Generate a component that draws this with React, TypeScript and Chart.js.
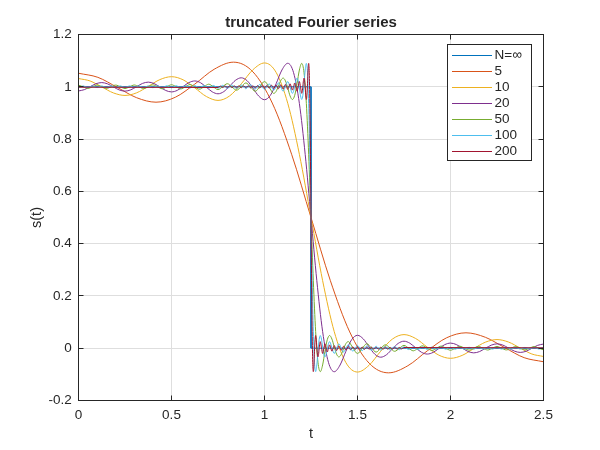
import React, { useEffect, useRef } from "react";
import { Chart, registerables } from "chart.js";

Chart.register(...registerables);

const FONT = '"Liberation Sans", Arial, Helvetica, sans-serif';
const INK = "#262626";
const GRID = "#dedede";

const chartTitle = "truncated Fourier series";
const xAxisLabel = "t";
const yAxisLabel = "s(t)";
const xTickValues = [0, 0.5, 1, 1.5, 2, 2.5];
const xTickLabels = ["0", "0.5", "1", "1.5", "2", "2.5"];
const yTickValues = [-0.2, 0, 0.2, 0.4, 0.6, 0.8, 1, 1.2];
const yTickLabels = ["-0.2", "0", "0.2", "0.4", "0.6", "0.8", "1", "1.2"];
const seriesLabels = ["N=\u221E", "5", "10", "20", "50", "100", "200"];
const seriesColors = ["#0072BD", "#D95319", "#EDB120", "#7E2F8E", "#77AC30", "#4DBEEE", "#A2142F"];

// [t, s(t)] pairs
const sInf = [[0, 1], [1.25, 1], [1.25, 0], [2.5, 0]];

const s5 = [[0, 1.05174], [0.10417, 1.03613], [0.20833, 0.99783], [0.3125, 0.95823], [0.41667, 0.94106], [0.52083, 0.96004], [0.625, 1.01018], [0.72917, 1.06698], [0.83333, 1.09418], [0.9375, 1.05731], [1.04167, 0.93781], [1.14583, 0.74181], [1.25, 0.5], [1.35417, 0.25819], [1.45833, 0.06219], [1.5625, -0.05731], [1.66667, -0.09418], [1.77083, -0.06698], [1.875, -0.01018], [1.97917, 0.03996], [2.08333, 0.05894], [2.1875, 0.04177], [2.29167, 0.00217], [2.39583, -0.03613], [2.5, -0.05174]];

const s10 = [[0, 1.03153], [0.0625, 1.02219], [0.125, 0.99951], [0.1875, 0.97657], [0.25, 0.96691], [0.3125, 0.9769], [0.375, 1.00172], [0.4375, 1.02749], [0.5, 1.03862], [0.5625, 1.02662], [0.625, 0.99589], [0.6875, 0.96278], [0.75, 0.94795], [0.8125, 0.96507], [0.875, 1.01139], [0.9375, 1.06504], [1, 1.09116], [1.0625, 1.05504], [1.125, 0.93686], [1.1875, 0.74167], [1.25, 0.5], [1.3125, 0.25833], [1.375, 0.06314], [1.4375, -0.05504], [1.5, -0.09116], [1.5625, -0.06504], [1.625, -0.01139], [1.6875, 0.03493], [1.75, 0.05205], [1.8125, 0.03722], [1.875, 0.00411], [1.9375, -0.02662], [2, -0.03862], [2.0625, -0.02749], [2.125, -0.00172], [2.1875, 0.0231], [2.25, 0.03309], [2.3125, 0.02343], [2.375, 0.00049], [2.4375, -0.02219], [2.5, -0.03153]];

const s20 = [[0, 0.98411], [0.03125, 0.98899], [0.0625, 1.00036], [0.09375, 1.01158], [0.125, 1.01609], [0.15625, 1.01116], [0.1875, 0.99956], [0.21875, 0.988], [0.25, 0.98331], [0.28125, 0.98842], [0.3125, 1.00057], [0.34375, 1.01278], [0.375, 1.0178], [0.40625, 1.01236], [0.4375, 0.99925], [0.46875, 0.98596], [0.5, 0.98042], [0.53125, 0.98643], [0.5625, 1.00104], [0.59375, 1.01604], [0.625, 1.02235], [0.65625, 1.01547], [0.6875, 0.99846], [0.71875, 0.9808], [0.75, 0.97322], [0.78125, 0.98155], [0.8125, 1.00251], [0.84375, 1.0247], [0.875, 1.03437], [0.90625, 1.02346], [0.9375, 0.99524], [0.96875, 0.96446], [1, 0.95057], [1.03125, 0.96708], [1.0625, 1.01197], [1.09375, 1.06431], [1.125, 1.08991], [1.15625, 1.054], [1.1875, 0.93633], [1.21875, 0.74152], [1.25, 0.5], [1.28125, 0.25848], [1.3125, 0.06367], [1.34375, -0.054], [1.375, -0.08991], [1.40625, -0.06431], [1.4375, -0.01197], [1.46875, 0.03292], [1.5, 0.04943], [1.53125, 0.03554], [1.5625, 0.00476], [1.59375, -0.02346], [1.625, -0.03437], [1.65625, -0.0247], [1.6875, -0.00251], [1.71875, 0.01845], [1.75, 0.02678], [1.78125, 0.0192], [1.8125, 0.00154], [1.84375, -0.01547], [1.875, -0.02235], [1.90625, -0.01604], [1.9375, -0.00104], [1.96875, 0.01357], [2, 0.01958], [2.03125, 0.01404], [2.0625, 0.00075], [2.09375, -0.01236], [2.125, -0.0178], [2.15625, -0.01278], [2.1875, -0.00057], [2.21875, 0.01158], [2.25, 0.01669], [2.28125, 0.012], [2.3125, 0.00044], [2.34375, -0.01116], [2.375, -0.01609], [2.40625, -0.01158], [2.4375, -0.00036], [2.46875, 0.01101], [2.5, 0.01589]];

const s50 = [[0, 1.00636], [0.025, 1], [0.05, 0.99362], [0.075, 1], [0.1, 1.00642], [0.125, 1], [0.15, 0.99352], [0.175, 1], [0.2, 1.00657], [0.225, 1], [0.25, 0.99331], [0.275, 1], [0.3, 1.00684], [0.325, 1], [0.35, 0.99297], [0.375, 1], [0.4, 1.00726], [0.425, 1], [0.45, 0.99247], [0.475, 1], [0.5, 1.00786], [0.525, 1], [0.55, 0.99175], [0.575, 1.00017], [0.6, 1.00872], [0.625, 0.9998], [0.65, 0.99071], [0.675, 1.00024], [0.7, 1.00997], [0.725, 0.99971], [0.75, 0.98919], [0.775, 1.00036], [0.8, 1.01185], [0.825, 0.99956], [0.85, 0.98683], [0.875, 1.00057], [0.9, 1.01489], [0.925, 0.99925], [0.95, 0.9828], [0.975, 1.00104], [1, 1.02044], [1.025, 0.99841], [1.05, 0.9747], [1.0625, 0.98251], [1.075, 1.00251], [1.0875, 1.02386], [1.1, 1.03329], [1.1125, 1.02277], [1.125, 0.99524], [1.1375, 0.96503], [1.15, 0.95128], [1.1625, 0.9675], [1.175, 1.01197], [1.1875, 1.064], [1.2, 1.08956], [1.2125, 1.0538], [1.225, 0.93633], [1.2375, 0.74159], [1.25, 0.5], [1.2625, 0.25841], [1.275, 0.06367], [1.2875, -0.0538], [1.3, -0.08956], [1.3125, -0.064], [1.325, -0.01197], [1.3375, 0.0325], [1.35, 0.04872], [1.3625, 0.03497], [1.375, 0.00476], [1.3875, -0.02277], [1.4, -0.03329], [1.4125, -0.02386], [1.425, -0.00251], [1.4375, 0.01749], [1.45, 0.0253], [1.475, 0.00159], [1.5, -0.02044], [1.525, -0.00104], [1.55, 0.0172], [1.575, 0.00075], [1.6, -0.01489], [1.625, -0.00057], [1.65, 0.01317], [1.675, 0.00044], [1.7, -0.01185], [1.725, -0.00036], [1.75, 0.01081], [1.775, 0.00029], [1.8, -0.00997], [1.825, -0.00024], [1.85, 0.00929], [1.875, 0.0002], [1.9, -0.00872], [1.925, -0.00017], [1.95, 0.00825], [1.975, 0], [2, -0.00786], [2.025, 0], [2.05, 0.00753], [2.075, 0], [2.1, -0.00726], [2.125, 0], [2.15, 0.00703], [2.175, 0], [2.2, -0.00684], [2.225, 0], [2.25, 0.00669], [2.275, 0], [2.3, -0.00657], [2.325, 0], [2.35, 0.00648], [2.375, 0], [2.4, -0.00642], [2.425, 0], [2.45, 0.00638], [2.475, 0], [2.5, -0.00636]];

const s100 = [[0, 0.99682], [0.0125, 1], [0.025, 1.00318], [0.0375, 1], [0.05, 0.99681], [0.0625, 1], [0.075, 1.0032], [0.0875, 1], [0.1, 0.99679], [0.1125, 1], [0.125, 1.00322], [0.1375, 1], [0.15, 0.99676], [0.1625, 1], [0.175, 1.00326], [0.1875, 1], [0.2, 0.99671], [0.2125, 1], [0.225, 1.00331], [0.2375, 1], [0.25, 0.99665], [0.2625, 1], [0.275, 1.00338], [0.2875, 1], [0.3, 0.99658], [0.3125, 1], [0.325, 1.00347], [0.3375, 1], [0.35, 0.99648], [0.3625, 1], [0.375, 1.00357], [0.3875, 1], [0.4, 0.99637], [0.4125, 1], [0.425, 1.0037], [0.4375, 1], [0.45, 0.99623], [0.4625, 1], [0.475, 1.00385], [0.4875, 1], [0.5, 0.99607], [0.5125, 1], [0.525, 1.00403], [0.5375, 1], [0.55, 0.99587], [0.5625, 1], [0.575, 1.00424], [0.5875, 1], [0.6, 0.99563], [0.6125, 1], [0.625, 1.0045], [0.6375, 1], [0.65, 0.99535], [0.6625, 1], [0.675, 1.00481], [0.6875, 1], [0.7, 0.99501], [0.7125, 1], [0.725, 1.00519], [0.7375, 1], [0.75, 0.99458], [0.7625, 1], [0.775, 1.00566], [0.7875, 1], [0.8, 0.99406], [0.8125, 1], [0.825, 1.00625], [0.8375, 1], [0.85, 0.99339], [0.8625, 1], [0.875, 1.00701], [0.8875, 0.99985], [0.9, 0.99252], [0.9125, 1.00017], [0.925, 1.00801], [0.9375, 0.9998], [0.95, 0.99137], [0.9625, 1.00024], [0.975, 1.00938], [0.9875, 0.99971], [1, 0.98972], [1.0125, 1.00036], [1.025, 1.01138], [1.0375, 0.99956], [1.05, 0.98724], [1.0625, 1.00057], [1.075, 1.01453], [1.0875, 0.99925], [1.1, 0.98311], [1.1125, 1.00104], [1.125, 1.02018], [1.1375, 0.99846], [1.15, 0.97497], [1.15625, 0.9827], [1.1625, 1.00251], [1.16875, 1.02371], [1.175, 1.03309], [1.18125, 1.02263], [1.1875, 0.99524], [1.19375, 0.96513], [1.2, 0.95141], [1.20625, 0.9676], [1.2125, 1.01197], [1.21875, 1.06394], [1.225, 1.08949], [1.23125, 1.05378], [1.2375, 0.93633], [1.24375, 0.74159], [1.25, 0.5], [1.25625, 0.25841], [1.2625, 0.06367], [1.26875, -0.05378], [1.275, -0.08949], [1.28125, -0.06394], [1.2875, -0.01197], [1.29375, 0.0324], [1.3, 0.04859], [1.30625, 0.03487], [1.3125, 0.00476], [1.31875, -0.02263], [1.325, -0.03309], [1.33125, -0.02371], [1.3375, -0.00251], [1.34375, 0.0173], [1.35, 0.02503], [1.3625, 0.00154], [1.375, -0.02018], [1.3875, -0.00104], [1.4, 0.01689], [1.4125, 0.00075], [1.425, -0.01453], [1.4375, -0.00057], [1.45, 0.01276], [1.4625, 0.00044], [1.475, -0.01138], [1.4875, -0.00036], [1.5, 0.01028], [1.5125, 0.00029], [1.525, -0.00938], [1.5375, -0.00024], [1.55, 0.00863], [1.5625, 0.0002], [1.575, -0.00801], [1.5875, -0.00017], [1.6, 0.00748], [1.6125, 0.00015], [1.625, -0.00701], [1.6375, 0], [1.65, 0.00661], [1.6625, 0], [1.675, -0.00625], [1.6875, 0], [1.7, 0.00594], [1.7125, 0], [1.725, -0.00566], [1.7375, 0], [1.75, 0.00542], [1.7625, 0], [1.775, -0.00519], [1.7875, 0], [1.8, 0.00499], [1.8125, 0], [1.825, -0.00481], [1.8375, 0], [1.85, 0.00465], [1.8625, 0], [1.875, -0.0045], [1.8875, 0], [1.9, 0.00437], [1.9125, 0], [1.925, -0.00424], [1.9375, 0], [1.95, 0.00413], [1.9625, 0], [1.975, -0.00403], [1.9875, 0], [2, 0.00393], [2.0125, 0], [2.025, -0.00385], [2.0375, 0], [2.05, 0.00377], [2.0625, 0], [2.075, -0.0037], [2.0875, 0], [2.1, 0.00363], [2.1125, 0], [2.125, -0.00357], [2.1375, 0], [2.15, 0.00352], [2.1625, 0], [2.175, -0.00347], [2.1875, 0], [2.2, 0.00342], [2.2125, 0], [2.225, -0.00338], [2.2375, 0], [2.25, 0.00335], [2.2625, 0], [2.275, -0.00331], [2.2875, 0], [2.3, 0.00329], [2.3125, 0], [2.325, -0.00326], [2.3375, 0], [2.35, 0.00324], [2.3625, 0], [2.375, -0.00322], [2.3875, 0], [2.4, 0.00321], [2.4125, 0], [2.425, -0.0032], [2.4375, 0], [2.45, 0.00319], [2.4625, 0], [2.475, -0.00318], [2.4875, 0], [2.5, 0.00318]];

const s200 = [[0, 0.99841], [0.75, 0.99729], [0.75625, 1], [0.7625, 1.00277], [0.76875, 1], [0.775, 0.99717], [0.78125, 1], [0.7875, 1.0029], [0.79375, 1], [0.8, 0.99703], [0.80625, 1], [0.8125, 1.00305], [0.81875, 1], [0.825, 0.99687], [0.83125, 1], [0.8375, 1.00321], [0.84375, 1], [0.85, 0.9967], [0.85625, 1], [0.8625, 1.0034], [0.86875, 1], [0.875, 0.99649], [0.88125, 1], [0.8875, 1.00362], [0.89375, 1], [0.9, 0.99626], [0.90625, 1], [0.9125, 1.00387], [0.91875, 1], [0.925, 0.99599], [0.93125, 1], [0.9375, 1.00416], [0.94375, 1], [0.95, 0.99568], [0.95625, 1], [0.9625, 1.0045], [0.96875, 1], [0.975, 0.9953], [0.98125, 1], [0.9875, 1.00491], [0.99375, 1], [1, 0.99485], [1.00625, 1], [1.0125, 1.00541], [1.01875, 1], [1.025, 0.9943], [1.03125, 1], [1.0375, 1.00603], [1.04375, 1], [1.05, 0.9936], [1.05625, 1], [1.0625, 1.00681], [1.06875, 0.99985], [1.075, 0.99271], [1.08125, 1.00017], [1.0875, 1.00784], [1.09375, 0.9998], [1.1, 0.99152], [1.10625, 1.00024], [1.1125, 1.00924], [1.11875, 0.99971], [1.125, 0.98985], [1.13125, 1.00036], [1.1375, 1.01127], [1.14375, 0.99956], [1.15, 0.98734], [1.15625, 1.00057], [1.1625, 1.01444], [1.16875, 0.99925], [1.175, 0.98318], [1.18125, 1.00104], [1.1875, 1.02012], [1.19375, 0.99846], [1.2, 0.97497], [1.203125, 0.9827], [1.20625, 1.00251], [1.209375, 1.02371], [1.2125, 1.03309], [1.215625, 1.02263], [1.21875, 0.99524], [1.221875, 0.96513], [1.225, 0.95141], [1.228125, 0.9676], [1.23125, 1.01197], [1.234375, 1.06394], [1.2375, 1.08949], [1.240625, 1.05378], [1.24375, 0.93633], [1.246875, 0.74159], [1.25, 0.5], [1.253125, 0.25841], [1.25625, 0.06367], [1.259375, -0.05378], [1.2625, -0.08949], [1.265625, -0.06394], [1.26875, -0.01197], [1.271875, 0.0324], [1.275, 0.04859], [1.278125, 0.03487], [1.28125, 0.00476], [1.284375, -0.02263], [1.2875, -0.03309], [1.290625, -0.02371], [1.29375, -0.00251], [1.296875, 0.0173], [1.3, 0.02503], [1.30625, 0.00154], [1.3125, -0.02012], [1.31875, -0.00104], [1.325, 0.01682], [1.33125, 0.00075], [1.3375, -0.01444], [1.34375, -0.00057], [1.35, 0.01266], [1.35625, 0.00044], [1.3625, -0.01127], [1.36875, -0.00036], [1.375, 0.01015], [1.38125, 0.00029], [1.3875, -0.00924], [1.39375, -0.00024], [1.4, 0.00848], [1.40625, 0.0002], [1.4125, -0.00784], [1.41875, -0.00017], [1.425, 0.00729], [1.43125, 0.00015], [1.4375, -0.00681], [1.44375, 0], [1.45, 0.0064], [1.45625, 0], [1.4625, -0.00603], [1.46875, 0], [1.475, 0.0057], [1.48125, 0], [1.4875, -0.00541], [1.49375, 0], [1.5, 0.00515], [1.50625, 0], [1.5125, -0.00491], [1.51875, 0], [1.525, 0.0047], [1.53125, 0], [1.5375, -0.0045], [1.54375, 0], [1.55, 0.00432], [1.55625, 0], [1.5625, -0.00416], [1.56875, 0], [1.575, 0.00401], [1.58125, 0], [1.5875, -0.00387], [1.59375, 0], [1.6, 0.00374], [1.60625, 0], [1.6125, -0.00362], [1.61875, 0], [1.625, 0.00351], [1.63125, 0], [1.6375, -0.0034], [1.64375, 0], [1.65, 0.0033], [1.65625, 0], [1.6625, -0.00321], [1.66875, 0], [1.675, 0.00313], [1.68125, 0], [1.6875, -0.00305], [1.69375, 0], [1.7, 0.00297], [1.70625, 0], [1.7125, -0.0029], [1.71875, 0], [1.725, 0.00283], [1.73125, 0], [1.7375, -0.00277], [1.74375, 0], [1.75, 0.00271], [2.5, 0.00159]];

const seriesPoints = [sInf, s5, s10, s20, s50, s100, s200];

const crisp = (v: number) => Math.round(v - 0.5) + 0.5;

const framePlugin = {
  id: "matlabFrame",
  afterDatasetsDraw(chart: any) {
    const { ctx, chartArea: a, scales } = chart;
    const L = crisp(a.left), R = crisp(a.right), T = crisp(a.top), B = crisp(a.bottom);
    const TL = 5;
    ctx.save();
    ctx.strokeStyle = INK;
    ctx.lineWidth = 1;
    ctx.beginPath();
    xTickValues.forEach((v) => {
      const px = crisp(scales.x.getPixelForValue(v));
      ctx.moveTo(px, B); ctx.lineTo(px, B - TL);
      ctx.moveTo(px, T); ctx.lineTo(px, T + TL);
    });
    yTickValues.forEach((v) => {
      const py = crisp(scales.y.getPixelForValue(v));
      ctx.moveTo(L, py); ctx.lineTo(L + TL, py);
      ctx.moveTo(R, py); ctx.lineTo(R - TL, py);
    });
    ctx.stroke();
    ctx.strokeRect(L, T, R - L, B - T);
    ctx.restore();
  },
};

const legendPlugin = {
  id: "boxLegend",
  afterDraw(chart: any) {
    const { ctx, chartArea: a } = chart;
    const w = 84, rowH = 16, h = 116;
    const right = crisp(a.right - 12);
    const left = right - w;
    const top = crisp(a.top + 10);
    ctx.save();
    ctx.fillStyle = "#ffffff";
    ctx.fillRect(left, top, w, h);
    ctx.strokeStyle = INK;
    ctx.lineWidth = 1;
    ctx.strokeRect(left, top, w, h);
    ctx.font = `13.5px ${FONT}`;
    ctx.textBaseline = "middle";
    ctx.textAlign = "left";
    seriesLabels.forEach((label, i) => {
      const cy = top + 11 + rowH * i;
      ctx.strokeStyle = seriesColors[i];
      ctx.lineWidth = 1;
      ctx.beginPath();
      ctx.moveTo(left + 4.5, cy);
      ctx.lineTo(left + 44.5, cy);
      ctx.stroke();
      ctx.fillStyle = INK;
      ctx.fillText(label, left + 47, cy);
    });
    ctx.restore();
  },
};

export default function App() {
  const ref = useRef<HTMLCanvasElement | null>(null);

  useEffect(() => {
    if (!ref.current) return;
    const n = seriesPoints.length;
    const chart = new Chart(ref.current, {
      type: "line",
      data: {
        datasets: seriesPoints.map((pts, i) => ({
          label: seriesLabels[i],
          data: pts.map(([x, y]) => ({ x, y })),
          borderColor: seriesColors[i],
          backgroundColor: seriesColors[i],
          borderWidth: 1,
          pointRadius: 0,
          pointHoverRadius: 0,
          fill: false,
          tension: i === 0 ? 0 : 0.4,
          cubicInterpolationMode: i === 0 ? "default" : "monotone",
          order: n - i,
        })),
      },
      options: {
        animation: false,
        responsive: false,
        devicePixelRatio: 1,
        events: [],
        layout: { padding: { left: 0, right: 56.5, top: 0, bottom: 0 } },
        plugins: {
          legend: { display: false },
          tooltip: { enabled: false },
          title: {
            display: true,
            fullSize: false,
            text: chartTitle,
            color: INK,
            font: { family: FONT, size: 15, weight: "bold" },
            padding: { top: 13.5, bottom: 3 },
          },
        },
        scales: {
          x: {
            type: "linear",
            min: 0,
            max: 2.5,
            afterBuildTicks: (axis: any) => {
              axis.ticks = xTickValues.map((v) => ({ value: v }));
            },
            afterFit: (axis: any) => {
              axis.height = 49.5;
            },
            ticks: {
              autoSkip: false,
              maxRotation: 0,
              color: INK,
              padding: 6.7,
              font: { family: FONT, size: 13.5 },
              callback: (_v: any, idx: number) => xTickLabels[idx],
            },
            grid: { color: GRID, lineWidth: 1, drawTicks: false },
            border: { display: false },
            title: {
              display: true,
              text: xAxisLabel,
              color: INK,
              font: { family: FONT, size: 14.5 },
              padding: { top: 0, bottom: 7 },
            },
          },
          y: {
            type: "linear",
            min: -0.2,
            max: 1.2,
            afterBuildTicks: (axis: any) => {
              axis.ticks = yTickValues.map((v) => ({ value: v }));
            },
            afterFit: (axis: any) => {
              axis.width = 78.5;
            },
            ticks: {
              autoSkip: false,
              color: INK,
              padding: 6.8,
              font: { family: FONT, size: 13.5 },
              callback: (_v: any, idx: number) => yTickLabels[idx],
            },
            grid: { color: GRID, lineWidth: 1, drawTicks: false },
            border: { display: false },
            title: {
              display: true,
              text: yAxisLabel,
              color: INK,
              font: { family: FONT, size: 14.5 },
              padding: { top: 28, bottom: 0 },
            },
          },
        },
      },
      plugins: [framePlugin, legendPlugin],
    } as any);
    return () => chart.destroy();
  }, []);

  return (
    <div style={{ position: "fixed", left: 0, top: 0, width: 600, height: 450, background: "#ffffff" }}>
      <canvas ref={ref} width={600} height={450} style={{ display: "block", width: 600, height: 450 }} />
    </div>
  );
}
